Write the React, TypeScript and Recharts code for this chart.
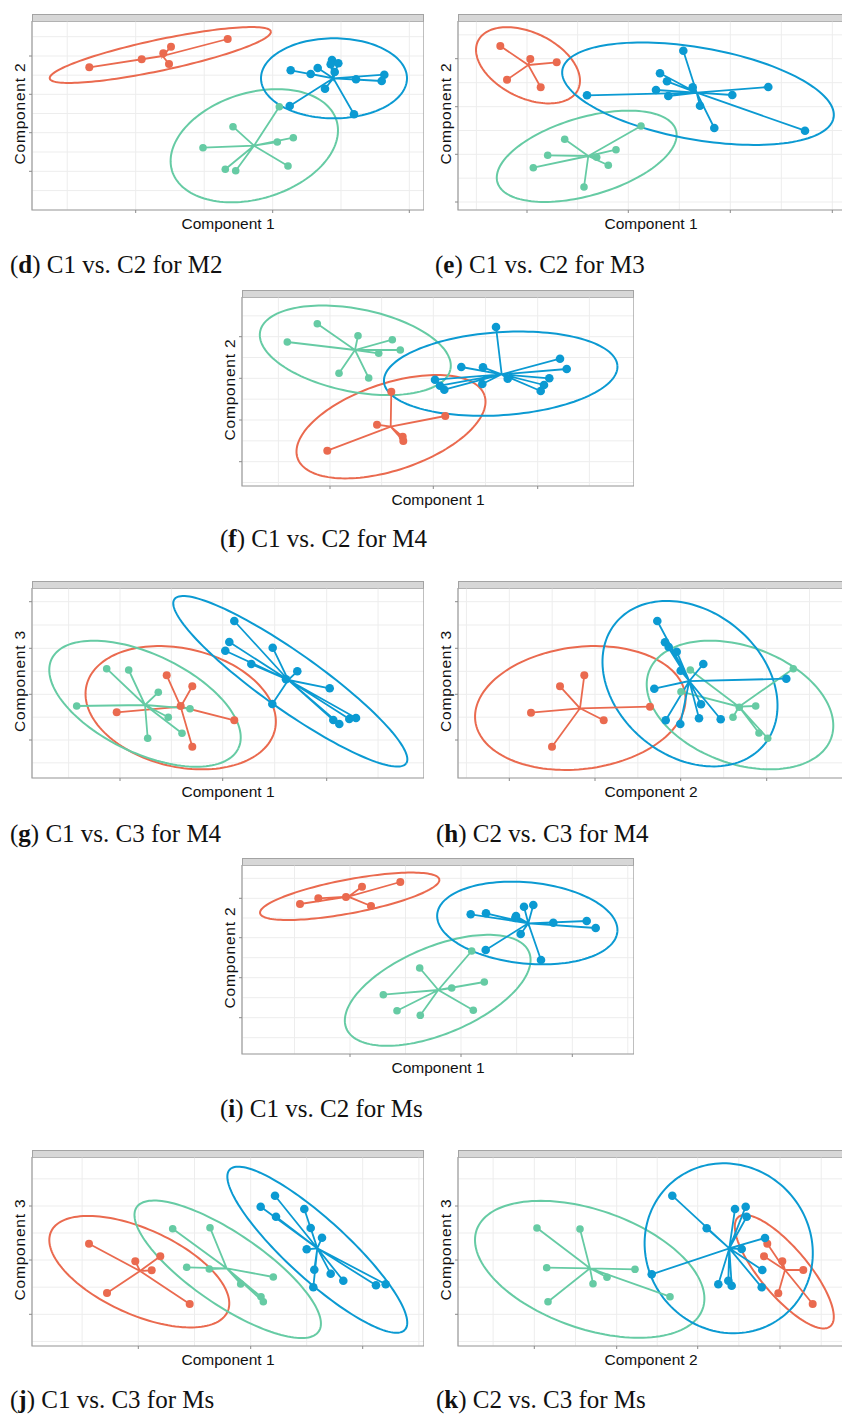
import React from 'react';
import { ScatterChart, Scatter, XAxis, YAxis, CartesianGrid, ReferenceArea, Label } from 'recharts';

type Pt = [number, number];
// ellipse: centre x, centre y, semi-major, semi-minor, rotation (degrees)
type Ell = [number, number, number, number, number];

const RED = '#EA6A4F';
const GREEN = '#66CBA4';
const BLUE = '#0B9AD2';

// ---------- (d) C1 vs C2 for M2 ----------
const dRed: Pt[] = [[57.3, 142.7], [109.7, 150.7], [131.3, 156.7], [139, 163.3], [137, 146], [195.7, 171]];
const dGreen: Pt[] = [[247.3, 103.3], [201, 83.3], [171, 62.3], [245.3, 68], [261.3, 72.3], [193.3, 40.7], [203.7, 39.3], [256, 44]];
const dBlue: Pt[] = [[258.7, 139.7], [278.7, 136], [285.7, 142], [300, 150], [298.7, 145.7], [306.3, 146.7], [302.7, 138], [293, 121.3], [257.7, 104], [324, 130.7], [352.3, 135.3], [349.7, 129], [322, 95.7]];
const dHubs: Pt[] = [[130.7, 154], [222, 64.3], [301.3, 131.7]];
const dEllipses: Ell[] = [[128.3, 155, 113, 15.5, 12], [222.3, 64.3, 86, 53, 17], [302, 131.7, 73, 40, 0]];
const dXTicks = [103.7, 240.7, 377.3];
const dYTicks = [38.7, 77.3, 115.7, 154];

// ---------- (e) C1 vs C2 for M3 ----------
const eRed: Pt[] = [[42.3, 164], [72.3, 151], [98.7, 147.7], [49, 130.3], [82.7, 122.7]];
const eGreen: Pt[] = [[106.7, 70.7], [89.7, 54.7], [75.3, 42.3], [138.7, 52.7], [150.3, 44.7], [158, 60.3], [126, 23], [183, 84]];
const eBlue: Pt[] = [[129, 114.7], [225.3, 159.3], [202, 136.7], [209, 128.7], [198, 120], [210.3, 114], [234.7, 122.7], [242, 104.3], [256.3, 82], [274.3, 115], [310.3, 123], [347, 79.3]];
const eHubs: Pt[] = [[70.3, 145], [130.3, 54], [238.7, 117.3]];
const eEllipses: Ell[] = [[70, 144.7, 55.6, 32.6, -26], [128.7, 53.7, 93, 39, 16.3], [240, 116.3, 137.7, 46, -10]];
const eXTicks = [69, 170.3, 272.3, 374.3];
const eYTicks = [8, 55.7, 103.3, 151.3];

// ---------- (f) C1 vs C2 for M4 ----------
const fRed: Pt[] = [[149.3, 94.3], [135, 61.3], [160.7, 49.3], [161.3, 45], [203.3, 70], [85.3, 35.3]];
const fGreen: Pt[] = [[75.3, 162.3], [45.3, 144], [116, 150.3], [150.3, 146.3], [136.7, 132.7], [158.3, 136], [97, 112.7], [126.7, 108]];
const fBlue: Pt[] = [[254, 159], [219.3, 119], [241, 118.7], [318, 127.3], [324.7, 117], [193, 106.3], [198, 100.3], [202.3, 96.3], [240.3, 102], [265.7, 107.3], [307.3, 107.7], [302, 101], [298.7, 95]];
const fHubs: Pt[] = [[148.7, 59.3], [113, 136], [259.7, 111.7]];
const fEllipses: Ell[] = [[149, 59.3, 98.6, 43.4, 18.5], [113.3, 135.7, 97, 41.4, -11.2], [258.7, 112.3, 117, 41.5, 3.9]];
const fXTicks = [88, 191.3, 295.7];
const fYTicks = [24.3, 66, 107.7, 149.3];

// ---------- (g) C1 vs C3 for M4 ----------
const gRed: Pt[] = [[134.7, 102.7], [160.3, 91.7], [84.7, 65.7], [148.7, 72], [202.3, 57.7], [160.3, 31.3]];
const gGreen: Pt[] = [[74.7, 109.3], [96.7, 108], [126.3, 85.7], [44.7, 72], [158, 69.3], [136.3, 60.7], [150, 44.7], [115.7, 39.7]];
const gBlue: Pt[] = [[202.3, 157], [197.3, 136], [193.3, 127.3], [240.7, 130.3], [219.3, 114], [265.3, 106.7], [254, 98.7], [297.7, 89.7], [240.3, 74], [301.3, 58], [307.3, 54], [317.3, 59], [324, 60]];
const gHubs: Pt[] = [[148.7, 71.3], [113, 73], [256.3, 98]];
const gEllipses: Ell[] = [[148.7, 70.3, 96.8, 59.1, -13.3], [113, 74.3, 103.5, 49.2, -25.6], [258.3, 96.7, 142, 28.5, -35.3]];
const gXTicks = [88, 190.7, 294.7];
const gYTicks = [38, 83.7, 129.7, 176.3];

// ---------- (h) C2 vs C3 for M4 ----------
const hRed: Pt[] = [[126.3, 102.7], [102, 91.7], [73, 65.3], [192, 71.3], [145.7, 57.7], [94, 31.3]];
const hGreen: Pt[] = [[232.3, 108], [223, 86.3], [335.3, 109.3], [281.3, 70.7], [297.7, 72], [275, 60.7], [301, 45], [309.7, 39.7]];
const hBlue: Pt[] = [[199.3, 157], [207, 135.7], [210.7, 131], [218.7, 126.3], [222.7, 107.3], [245.3, 114], [196.3, 89.3], [243, 73.7], [207.7, 57.7], [222.3, 54], [241, 59.7], [262.7, 58.7], [328.3, 99.3]];
const hHubs: Pt[] = [[122, 69.7], [281, 71.3], [231.3, 97]];
const hEllipses: Ell[] = [[122.3, 70, 105.8, 61, 7.1], [282, 73, 97, 58.6, -20.1], [232, 94.3, 96, 72.7, -39]];
const hXTicks = [51.3, 137, 222.7, 308.7];
const hYTicks = [38, 83.7, 129.7, 176.3];

// ---------- (i) C1 vs C2 for Ms ----------
const iRed: Pt[] = [[58, 150], [76.3, 155.7], [104, 157], [120, 167.3], [129, 148], [158.3, 172]];
const iGreen: Pt[] = [[177.7, 86], [141.3, 59.3], [155, 43.3], [178.3, 38.7], [209.7, 66], [242.3, 72], [231.3, 43.7], [229.7, 103]];
const iBlue: Pt[] = [[228.7, 139.7], [244, 140.7], [273.3, 136], [282, 147.3], [291.3, 149], [278.7, 120], [243.7, 104], [299, 94], [311.3, 131.3], [344.7, 133], [353.7, 126], [274, 138]];
const iHubs: Pt[] = [[106.3, 157.3], [196.3, 64], [286.3, 130.7]];
const iEllipses: Ell[] = [[107.7, 157.7, 91.2, 16.9, 10.7], [195.7, 63.7, 99, 43.6, 22.7], [285.3, 131, 90.5, 40.6, -5.6]];
const iXTicks = [108, 219, 330.3];
const iYTicks = [36.3, 76.3, 116.3, 155.7];

// ---------- (j) C1 vs C3 for Ms ----------
const jRed: Pt[] = [[57, 102.3], [103.3, 84.7], [119.7, 75.7], [128.3, 89.7], [75, 53], [157.7, 42]];
const jGreen: Pt[] = [[140.7, 117.3], [178, 118.3], [154.7, 78.7], [177.3, 77], [241.3, 69], [208.7, 62], [229, 49.3], [231.3, 44.3]];
const jBlue: Pt[] = [[243, 150.3], [228.7, 139.3], [244, 129.3], [272.3, 137], [278.7, 118], [290, 108.3], [274.7, 96.7], [282.3, 76.3], [298.7, 72.3], [311.3, 65.3], [281.3, 58.7], [344, 60.7], [353.7, 61.7]];
const jHubs: Pt[] = [[108, 75], [194.7, 77.7], [285.3, 97.7]];
const jEllipses: Ell[] = [[107.3, 74.3, 96.9, 42.6, -24.4], [195.7, 76.7, 110.2, 35.7, -34.3], [285.3, 96.3, 118.7, 30, -42.4]];
const jXTicks = [106.3, 218.7, 330.7];
const jYTicks = [31.7, 86, 140];

// ---------- (k) C2 vs C3 for Ms ----------
const kRed: Pt[] = [[309.3, 102.3], [306, 89.7], [324.3, 84.7], [345.3, 76], [320.3, 52.7], [354.7, 42]];
const kGreen: Pt[] = [[79, 118], [122, 117], [88.7, 78.3], [177, 76.7], [149, 68.7], [135, 62.3], [90, 44.3], [212, 49.3]];
const kBlue: Pt[] = [[214.3, 150.3], [248.7, 117.7], [277, 137], [287.7, 139.3], [288.7, 129.3], [283.7, 97], [307, 108], [304.3, 76], [303.7, 58.7], [270.3, 65.3], [273.7, 60.3], [260.3, 61.7], [193.7, 71.7]];
const kHubs: Pt[] = [[327, 76], [132, 77.7], [271.3, 97.7]];
const kEllipses: Ell[] = [[326.3, 74.3, 71.4, 23.9, -49.9], [131.7, 76.7, 119.7, 59.3, -19.2], [270.7, 97.7, 87, 82, -50]];
const kXTicks = [76.3, 158.7, 239.7, 322];
const kYTicks = [31.7, 86, 140];

const toXY = (p: Pt) => ({ x: p[0], y: p[1] });

function ellipseOutline(e: Ell) {
  const [cx, cy, a, b, deg] = e;
  const th = (deg * Math.PI) / 180;
  const out: { x: number; y: number }[] = [];
  const n = 144;
  for (let i = 0; i <= n; i++) {
    const t = (i / n) * 2 * Math.PI;
    out.push({
      x: cx + a * Math.cos(t) * Math.cos(th) - b * Math.sin(t) * Math.sin(th),
      y: cy + a * Math.cos(t) * Math.sin(th) + b * Math.sin(t) * Math.cos(th),
    });
  }
  return out;
}

function starSegments(hub: Pt, pts: Pt[]) {
  const out: { x: number; y: number }[] = [];
  pts.forEach((p) => {
    out.push(toXY(hub));
    out.push(toXY(p));
  });
  return out;
}

function withMinor(majors: number[], max: number) {
  const step = majors[1] - majors[0];
  const all: number[] = [...majors];
  let v = majors[0] - step / 2;
  while (v > 0) {
    all.push(+v.toFixed(2));
    v -= step;
  }
  for (let i = 0; i < majors.length - 1; i++) all.push(+((majors[i] + majors[i + 1]) / 2).toFixed(2));
  v = majors[majors.length - 1] + step / 2;
  while (v < max) {
    all.push(+v.toFixed(2));
    v += step;
  }
  return all.sort((a, b) => a - b);
}

const EmptyShape = () => <g />;

interface Cluster {
  color: string;
  pts: Pt[];
  hub: Pt;
  ell: Ell;
  r: number;
}

interface PanelCfg {
  L: number;
  T: number;
  W: number;
  H: number;
  xTicks: number[];
  yTicks: number[];
  xTitle: string;
  yTitle: string;
  clusters: Cluster[];
}

const YW = 20;
const XH = 26;

function Panel({ cfg }: { cfg: PanelCfg }) {
  const { L, T, W, H, xTicks, yTicks, xTitle, yTitle, clusters } = cfg;
  const xAll = withMinor(xTicks, W);
  const yAll = withMinor(yTicks, H);
  const xMaj = new Set(xTicks);
  const yMaj = new Set(yTicks);
  const xTick = (p: any) =>
    xMaj.has(p.payload.value) ? (
      <line x1={p.x} x2={p.x} y1={p.y} y2={p.y + 3} stroke="#8a8a8a" strokeWidth={1} />
    ) : (
      <g />
    );
  const yTick = (p: any) =>
    yMaj.has(p.payload.value) ? (
      <line x1={p.x - 3} x2={p.x} y1={p.y} y2={p.y} stroke="#8a8a8a" strokeWidth={1} />
    ) : (
      <g />
    );
  const xTitleRender = (props: any) => {
    const vb = props.viewBox && props.viewBox.width ? props.viewBox : { x: YW, y: H, width: W, height: XH };
    return (
      <text
        x={vb.x + vb.width / 2}
        y={vb.y + 13}
        textAnchor="middle"
        dominantBaseline="central"
        fontFamily='"Liberation Sans", Arial, sans-serif'
        fontSize={15.5}
        fill="#111"
      >
        {xTitle}
      </text>
    );
  };
  const yTitleRender = (props: any) => {
    const vb = props.viewBox && props.viewBox.height ? props.viewBox : { x: 0, y: 0, width: YW, height: H };
    const cx = vb.x + vb.width - 13;
    const cy = vb.y + vb.height / 2 - 2;
    return (
      <text
        x={cx}
        y={cy}
        transform={`rotate(-90 ${cx} ${cy})`}
        textAnchor="middle"
        dominantBaseline="central"
        fontFamily='"Liberation Sans", Arial, sans-serif'
        fontSize={15.5}
        letterSpacing={0.8}
        fill="#111"
      >
        {yTitle}
      </text>
    );
  };
  return (
    <>
      <div
        style={{
          position: 'absolute',
          left: L,
          top: T - 7,
          width: W,
          height: 8,
          background: '#d7d7d7',
          border: '1px solid #a3a3a3',
          boxSizing: 'border-box',
        }}
      />
      <div style={{ position: 'absolute', left: L - YW, top: T }}>
        <ScatterChart width={W + YW} height={H + XH} margin={{ top: 0, right: 0, bottom: 0, left: 0 }}>
          <CartesianGrid stroke="#ededed" strokeWidth={1} />
          <XAxis
            type="number"
            dataKey="x"
            domain={[0, W]}
            ticks={xAll}
            interval={0}
            tickSize={0}
            tickMargin={0}
            tickLine={false}
            axisLine={false}
            tick={xTick}
            height={XH}
            allowDataOverflow
          >
            <Label content={xTitleRender} />
          </XAxis>
          <YAxis
            type="number"
            dataKey="y"
            domain={[0, H]}
            ticks={yAll}
            interval={0}
            tickSize={0}
            tickMargin={0}
            tickLine={false}
            axisLine={false}
            tick={yTick}
            width={YW}
            allowDataOverflow
          >
            <Label content={yTitleRender} />
          </YAxis>
          <ReferenceArea x1={0} x2={W} y1={0} y2={H} fill="none" stroke="#9b9b9b" strokeWidth={1.2} ifOverflow="visible" />
          {clusters.map((c, i) => (
            <Scatter
              key={`e${i}`}
              data={ellipseOutline(c.ell)}
              line={{ stroke: c.color, strokeWidth: 2 }}
              lineType="joint"
              shape={EmptyShape}
              isAnimationActive={false}
            />
          ))}
          {clusters.map((c, i) => (
            <Scatter
              key={`s${i}`}
              data={starSegments(c.hub, c.pts)}
              line={{ stroke: c.color, strokeWidth: 1.8 }}
              lineType="joint"
              shape={EmptyShape}
              isAnimationActive={false}
            />
          ))}
          {clusters.map((c, i) => (
            <Scatter
              key={`p${i}`}
              data={c.pts.map(toXY)}
              fill={c.color}
              isAnimationActive={false}
              shape={(p: any) => <circle cx={p.cx} cy={p.cy} r={c.r} fill={c.color} />}
            />
          ))}
        </ScatterChart>
      </div>
    </>
  );
}

function Caption({ left, baseline, letter, rest }: { left: number; baseline: number; letter: string; rest: string }) {
  return (
    <div
      style={{
        position: 'absolute',
        left,
        top: baseline - 21,
        fontFamily: '"Liberation Serif", "Times New Roman", serif',
        fontSize: 25,
        lineHeight: '25px',
        whiteSpace: 'nowrap',
        color: '#111',
      }}
    >
      (<b>{letter}</b>) {rest}
    </div>
  );
}

const mk = (red: Pt[], green: Pt[], blue: Pt[], hubs: Pt[], ells: Ell[]): Cluster[] => [
  { color: RED, pts: red, hub: hubs[0], ell: ells[0], r: 4 },
  { color: GREEN, pts: green, hub: hubs[1], ell: ells[1], r: 3.8 },
  { color: BLUE, pts: blue, hub: hubs[2], ell: ells[2], r: 4.3 },
];

const panels: PanelCfg[] = [
  { L: 32, T: 21, W: 392, H: 189, xTicks: dXTicks, yTicks: dYTicks, xTitle: 'Component 1', yTitle: 'Component 2', clusters: mk(dRed, dGreen, dBlue, dHubs, dEllipses) },
  { L: 458, T: 21, W: 386, H: 189, xTicks: eXTicks, yTicks: eYTicks, xTitle: 'Component 1', yTitle: 'Component 2', clusters: mk(eRed, eGreen, eBlue, eHubs, eEllipses) },
  { L: 242, T: 297, W: 392, H: 189, xTicks: fXTicks, yTicks: fYTicks, xTitle: 'Component 1', yTitle: 'Component 2', clusters: mk(fRed, fGreen, fBlue, fHubs, fEllipses) },
  { L: 32, T: 588, W: 392, H: 190, xTicks: gXTicks, yTicks: gYTicks, xTitle: 'Component 1', yTitle: 'Component 3', clusters: mk(gRed, gGreen, gBlue, gHubs, gEllipses) },
  { L: 458, T: 588, W: 386, H: 190, xTicks: hXTicks, yTicks: hYTicks, xTitle: 'Component 2', yTitle: 'Component 3', clusters: mk(hRed, hGreen, hBlue, hHubs, hEllipses) },
  { L: 242, T: 865, W: 392, H: 189, xTicks: iXTicks, yTicks: iYTicks, xTitle: 'Component 1', yTitle: 'Component 2', clusters: mk(iRed, iGreen, iBlue, iHubs, iEllipses) },
  { L: 32, T: 1157, W: 392, H: 189, xTicks: jXTicks, yTicks: jYTicks, xTitle: 'Component 1', yTitle: 'Component 3', clusters: mk(jRed, jGreen, jBlue, jHubs, jEllipses) },
  { L: 458, T: 1157, W: 386, H: 189, xTicks: kXTicks, yTicks: kYTicks, xTitle: 'Component 2', yTitle: 'Component 3', clusters: mk(kRed, kGreen, kBlue, kHubs, kEllipses) },
];

const captions = [
  { left: 10, baseline: 273, letter: 'd', rest: 'C1 vs. C2 for M2' },
  { left: 435, baseline: 273, letter: 'e', rest: 'C1 vs. C2 for M3' },
  { left: 220, baseline: 547, letter: 'f', rest: 'C1 vs. C2 for M4' },
  { left: 10, baseline: 842, letter: 'g', rest: 'C1 vs. C3 for M4' },
  { left: 436, baseline: 842, letter: 'h', rest: 'C2 vs. C3 for M4' },
  { left: 220, baseline: 1117, letter: 'i', rest: 'C1 vs. C2 for Ms' },
  { left: 10, baseline: 1408, letter: 'j', rest: 'C1 vs. C3 for Ms' },
  { left: 436, baseline: 1408, letter: 'k', rest: 'C2 vs. C3 for Ms' },
];

export default function App() {
  return (
    <div style={{ position: 'absolute', left: 0, top: 0, width: 842, height: 1416, overflow: 'hidden', background: '#fff' }}>
      {panels.map((p, i) => (
        <Panel key={i} cfg={p} />
      ))}
      {captions.map((c, i) => (
        <Caption key={i} {...c} />
      ))}
    </div>
  );
}
